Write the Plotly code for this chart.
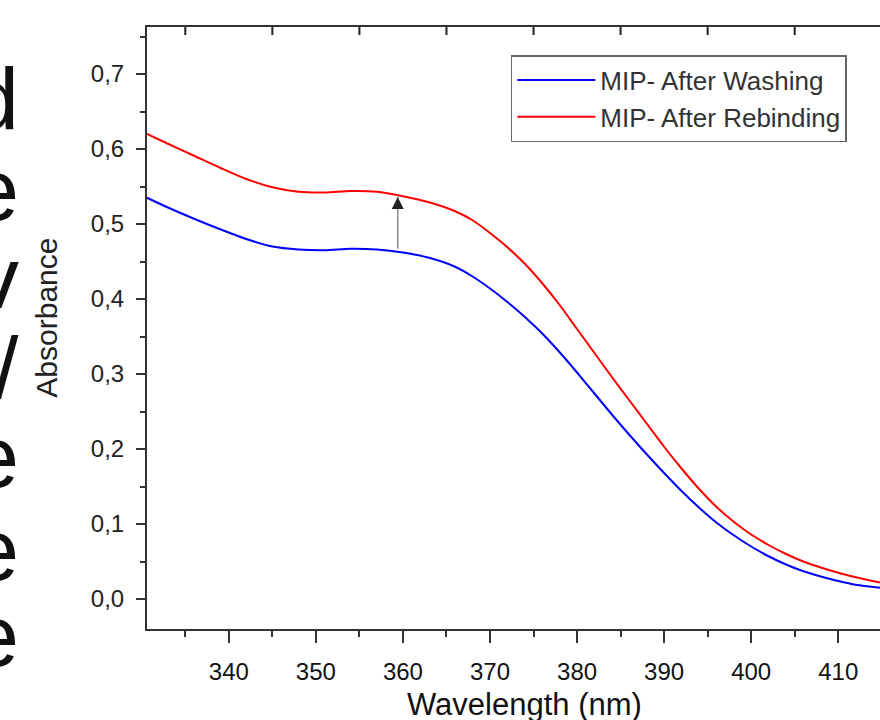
import plotly.graph_objects as go

# wavelength (nm) / absorbance
wl_wash = [330.6, 333, 336, 339, 342, 345, 348, 351, 354, 357, 360, 363, 366, 368, 370,
           372, 374, 376, 378, 380, 382, 384, 386, 388, 390, 392, 394, 396, 398, 400,
           402, 404, 406, 408, 410, 412, 414.8]
abs_wash = [0.535, 0.522, 0.507, 0.493, 0.480, 0.470, 0.466, 0.465, 0.467, 0.466, 0.462,
            0.455, 0.443, 0.430, 0.414, 0.396, 0.376, 0.354, 0.329, 0.302, 0.274, 0.246,
            0.219, 0.193, 0.168, 0.144, 0.122, 0.102, 0.085, 0.070, 0.057, 0.046, 0.037,
            0.030, 0.024, 0.019, 0.015]

wl_rebind = [330.6, 333, 336, 339, 342, 345, 348, 351, 354, 357, 360, 363, 366, 368, 370,
             372, 374, 376, 378, 380, 382, 384, 386, 388, 390, 392, 394, 396, 398, 400,
             402, 404, 406, 408, 410, 412, 414.8]
abs_rebind = [0.620, 0.607, 0.591, 0.575, 0.560, 0.549, 0.543, 0.542, 0.544, 0.543, 0.537,
              0.529, 0.517, 0.505, 0.488, 0.469, 0.447, 0.421, 0.392, 0.360, 0.328, 0.296,
              0.265, 0.234, 0.203, 0.174, 0.147, 0.123, 0.103, 0.086, 0.072, 0.060, 0.050,
              0.042, 0.035, 0.029, 0.022]

series_names = ["MIP- After Washing", "MIP- After Rebinding"]
x_ticks = [340, 350, 360, 370, 380, 390, 400, 410]
top_ticks = [335, 345, 355, 365, 375, 385, 395, 405]
y_ticks = [0.0, 0.1, 0.2, 0.3, 0.4, 0.5, 0.6, 0.7]

# arrow between the curves
arrow_x = 359.4
arrow_from = 0.465
arrow_to = 0.536

# clipped letters of the neighbouring text column
side_letters = ["d", "e", "v", "/", "e", "e", "e"]
side_baselines = [131, 222, 310, 400, 489, 582, 668]  # px from top

W, H = 880, 720
L, T, B = 147.3, 27, 91
plot_h = H - T - B
plot_w = W - L

x_range = [330.6, 414.8]
y_range = [-0.04, 0.7627]

FONT = "Liberation Sans, Arial, sans-serif"
AX = "#333333"

fig = go.Figure()
fig.add_trace(go.Scatter(x=wl_wash, y=abs_wash, mode="lines", name=series_names[0],
                         line=dict(color="#0000ff", width=2, shape="spline", smoothing=0.8)))
fig.add_trace(go.Scatter(x=wl_rebind, y=abs_rebind, mode="lines", name=series_names[1],
                         line=dict(color="#ff0000", width=2, shape="spline", smoothing=0.8)))

# inner ticks along the top frame
for t in top_ticks:
    fig.add_shape(type="line", xref="x", yref="paper", x0=t, x1=t, layer="above",
                  y0=1, y1=1 - 8 / plot_h, line=dict(color="#222222", width=2))

# arrow: grey stem, black head
fig.add_annotation(x=arrow_x, y=arrow_to, ax=arrow_x, ay=arrow_from, axref="x", ayref="y",
                   xref="x", yref="y", text="", showarrow=True, arrowhead=0,
                   arrowcolor="#8a8a8a", arrowwidth=1.5)
fig.add_annotation(x=arrow_x, y=arrow_to, ax=arrow_x, ay=arrow_to - 0.012, axref="x", ayref="y",
                   xref="x", yref="y", text="", showarrow=True, arrowhead=2, arrowsize=1.6,
                   arrowcolor="#222222", arrowwidth=1.5)

# axis titles
fig.add_annotation(text="Absorbance", xref="paper", yref="paper",
                   x=(46 - L) / plot_w, y=(H - B - 318) / plot_h, showarrow=False,
                   xanchor="center", yanchor="middle", textangle=-90,
                   font=dict(family=FONT, size=30, color="#222222"))
fig.add_annotation(text="Wavelength (nm)", xref="paper", yref="paper",
                   x=(525 - L) / plot_w, y=(H - B - 704) / plot_h, showarrow=False,
                   xanchor="center", yanchor="middle",
                   font=dict(family=FONT, size=31, color="#111111"))

for ch, base in zip(side_letters, side_baselines):
    fig.add_annotation(text=ch, xref="paper", yref="paper", showarrow=False,
                       x=(21 - L) / plot_w, y=(H - B - (base + 19)) / plot_h,
                       xanchor="right", yanchor="bottom",
                       font=dict(family=FONT, size=88, color="#111111"))

fig.update_layout(
    width=W, height=H,
    margin=dict(l=L, r=0, t=T, b=B, pad=0),
    paper_bgcolor="white", plot_bgcolor="white",
    separators=", ",
    showlegend=True,
    legend=dict(x=(511 - L) / plot_w, y=(H - B - 55) / plot_h, xanchor="left", yanchor="top",
                bgcolor="white", bordercolor="#666666", borderwidth=1.5,
                font=dict(family=FONT, size=26, color="#333333"),
                itemwidth=78, tracegroupgap=0),
    xaxis=dict(range=x_range, tickvals=x_ticks, ticks="outside", ticklen=12, tickwidth=1.5,
               tickcolor=AX, showline=True, linecolor=AX, linewidth=2, mirror=True,
               showgrid=False, zeroline=False, ticklabelstandoff=8,
               tickfont=dict(family=FONT, size=24, color="#111111"),
               minor=dict(ticks="outside", ticklen=6, tickwidth=1.5, tickcolor=AX,
                          tick0=335, dtick=10, showgrid=False)),
    yaxis=dict(range=y_range, tickvals=y_ticks, tickformat=".1f", ticks="outside", ticklen=9,
               tickwidth=1.5, tickcolor=AX, showline=True, linecolor=AX, linewidth=2,
               showgrid=False, zeroline=False, ticklabelstandoff=7,
               tickfont=dict(family=FONT, size=24, color="#222222"),
               minor=dict(ticks="outside", ticklen=5, tickwidth=1.5, tickcolor=AX,
                          tick0=0.05, dtick=0.1, showgrid=False)),
)

fig.write_html("out.html", config={"displayModeBar": False},
               post_script="document.body.style.margin='0px';")
